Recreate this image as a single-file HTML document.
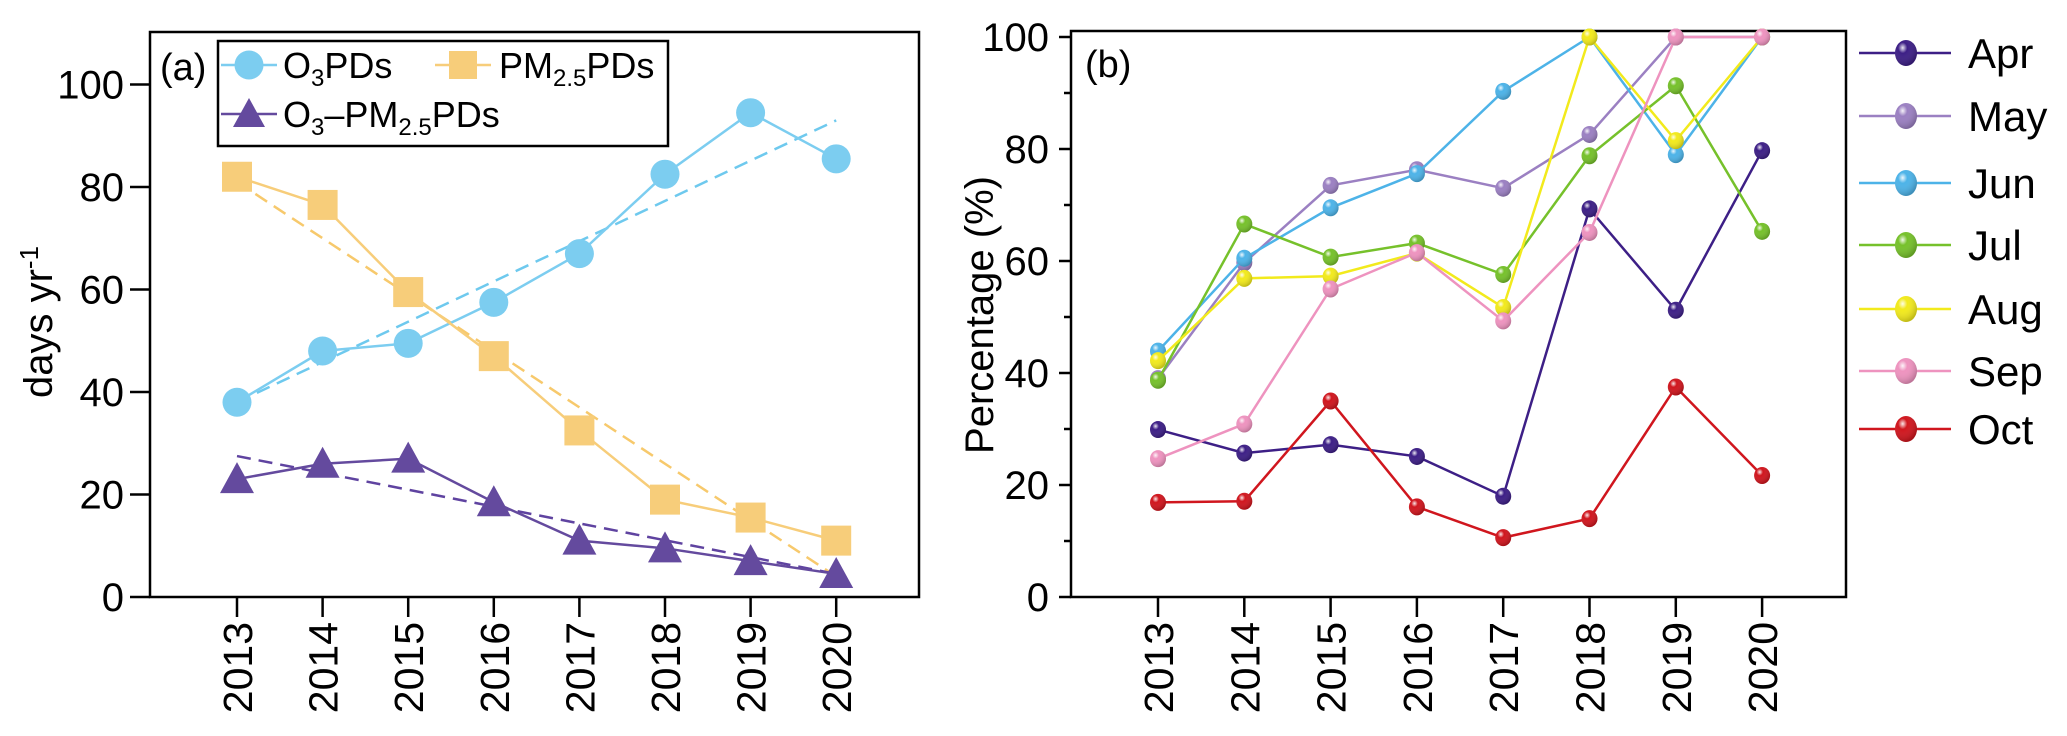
<!DOCTYPE html>
<html><head><meta charset="utf-8"><style>
body{margin:0;background:#fff}
svg{display:block;font-family:"Liberation Sans",Arial,sans-serif}
</style></head><body>
<svg id="chart" width="2067" height="736" viewBox="0 0 2067 736" xmlns="http://www.w3.org/2000/svg">
<defs>
<radialGradient id="shine" cx="0.35" cy="0.3" r="0.7">
<stop offset="0" stop-color="#fff" stop-opacity="0.9"/>
<stop offset="0.3" stop-color="#fff" stop-opacity="0"/>
<stop offset="1" stop-color="#000" stop-opacity="0.2"/>
</radialGradient>
</defs>
<g id="pa"></g>
<g id="pb"></g>
</svg>
<script>
const years = [2013,2014,2015,2016,2017,2018,2019,2020];
// Panel a data
const o3PDs = [38,48,49.5,57.5,67,82.5,94.5,85.5];
const pmPDs = [82,76.5,59.5,47,32.5,19,15.5,11];
const bothPDs = [23,26,27,18.5,11,9.5,7,4.5];
const o3Trend = [38,93];
const pmTrend = [81,4];
const bothTrend = [27.5,4.5];
const aTicks = [0,20,40,60,80,100];
// Panel b data
const months = ["Apr","May","Jun","Jul","Aug","Sep","Oct"];
const apr = [29.9,25.7,27.2,25.1,18,69.3,51.2,79.7];
const may = [39,59.7,73.5,76.3,73,82.6,100,100];
const jun = [43.9,60.5,69.5,75.6,90.3,100,79,100];
const jul = [38.7,66.6,60.7,63.2,57.6,78.8,91.3,65.3];
const aug = [42.2,56.9,57.3,61.4,51.7,100,81.5,100];
const sep = [24.7,30.9,55,61.5,49.3,65.1,100,100];
const oct = [16.9,17.1,35,16.1,10.6,14,37.5,21.7];
const bTicks = [0,20,40,60,80,100];

const NS="http://www.w3.org/2000/svg";
function mk(p,tag,at,txt){const e=document.createElementNS(NS,tag);for(const k in at)e.setAttribute(k,at[k]);if(txt!==undefined)e.textContent=txt;p.appendChild(e);return e;}

// ---- Panel A ----
const A=document.getElementById('pa');
const ax=i=>237+i*85.6, ay=v=>597-v*5.125;
let e=mk(A,'rect',{x:150,y:32,width:769,height:565,fill:'none',stroke:'#000','stroke-width':2.5});


aTicks.forEach(t=>{
  let l=mk(A,'line',{x1:130,x2:150,y1:ay(t),y2:ay(t),stroke:'#000','stroke-width':2.5});
  
  
  let tx=mk(A,'text',{x:124,y:ay(t)+14,'text-anchor':'end','font-size':40},t);
  
  
});
years.forEach((y,i)=>{
  let l=mk(A,'line',{x1:ax(i),x2:ax(i),y1:597,y2:617,stroke:'#000','stroke-width':2.5});
  
  
  let tx=mk(A,'text',{x:0,y:0,'text-anchor':'end','font-size':41,transform:`translate(${ax(i)+15},622) rotate(-90)`},y);
  
  
});
e=mk(A,'text',{x:0,y:0,'text-anchor':'middle','font-size':40,transform:'translate(52,322) rotate(-90)'});
e.innerHTML='days yr<tspan dy="-14" font-size="26">-1</tspan>';


e=mk(A,'text',{x:160,y:80,'font-size':38},'(a)');



function trend(vals,col,name){
  let l=mk(A,'line',{x1:ax(0),y1:ay(vals[0]),x2:ax(7),y2:ay(vals[1]),stroke:col,'stroke-width':2.5,'stroke-dasharray':'14 8'});
  
  
}
function marker(p,shape,x,y,col,s){
  if(shape==='c')return mk(p,'circle',{cx:x,cy:y,r:s,fill:col});
  if(shape==='s')return mk(p,'rect',{x:x-s,y:y-s,width:2*s,height:2*s,fill:col});
  return mk(p,'polygon',{points:`${x},${y-s-2} ${x-s-2},${y+s-1} ${x+s+2},${y+s-1}`,fill:col});
}
function seriesA(vals,col,shape,name){
  const g=mk(A,'g',{});
  
  
  mk(g,'polyline',{points:vals.map((v,i)=>ax(i)+','+ay(v)).join(' '),fill:'none',stroke:col,'stroke-width':2.5});
  vals.forEach((v,i)=>{
    const m=marker(g,shape,ax(i),ay(v),col,shape==='c'?14.5:15);
    
    
  });
}
trend(o3Trend,'#6ec9ee','o3-trend-line');
trend(pmTrend,'#f7c96c','pm-trend-line');
trend(bothTrend,'#5f43a0','both-trend-line');
seriesA(o3PDs,'#7ccdf0','c','o3-pds-series');
seriesA(pmPDs,'#f7cd7a','s','pm-pds-series');
seriesA(bothPDs,'#644a9e','t','o3-pm-pds-series');

// legend A
const LA=mk(A,'g',{});


mk(LA,'rect',{x:218,y:41,width:450,height:105,fill:'#fff',stroke:'#000','stroke-width':2.5});
function legA(x1,x2,cy,col,shape,tx,html,name){
  const g=mk(LA,'g',{});
  
  
  mk(g,'line',{x1:x1,x2:x2,y1:cy,y2:cy,stroke:col,'stroke-width':2.5});
  marker(g,shape,(x1+x2)/2,cy,col,shape==='c'?14.5:14);
  const t=mk(g,'text',{x:tx,y:cy+13,'font-size':36});
  t.innerHTML=html;
}
legA(221,277,65,'#7ccdf0','c',283,'O<tspan font-size="24" dy="8">3</tspan><tspan dy="-8">PDs</tspan>','legend-entry-o3');
legA(435,491,65,'#f7cd7a','s',499,'PM<tspan font-size="24" dy="8">2.5</tspan><tspan dy="-8">PDs</tspan>','legend-entry-pm');
legA(221,277,114,'#644a9e','t',283,'O<tspan font-size="24" dy="8">3</tspan><tspan dy="-8">–PM</tspan><tspan font-size="24" dy="8">2.5</tspan><tspan dy="-8">PDs</tspan>','legend-entry-both');

// ---- Panel B ----
const B=document.getElementById('pb');
const bx=i=>1158+i*86.3, by=v=>597-v*5.6;
e=mk(B,'rect',{x:1071,y:31,width:775,height:566,fill:'none',stroke:'#000','stroke-width':2.5});


for(let v=0;v<=100;v+=10){
  const major=v%20===0;
  let l=mk(B,'line',{x1:major?1059:1064,x2:1071,y1:by(v),y2:by(v),stroke:'#000','stroke-width':2.5});
  
  
}
bTicks.forEach(t=>{
  let tx=mk(B,'text',{x:1049,y:by(t)+14,'text-anchor':'end','font-size':40},t);
  
  
});
years.forEach((y,i)=>{
  let l=mk(B,'line',{x1:bx(i),x2:bx(i),y1:597,y2:617,stroke:'#000','stroke-width':2.5});
  
  
  let tx=mk(B,'text',{x:0,y:0,'text-anchor':'end','font-size':41,transform:`translate(${bx(i)+15},622) rotate(-90)`},y);
  
  
});
e=mk(B,'text',{x:0,y:0,'text-anchor':'middle','font-size':40,transform:'translate(993,315) rotate(-90)'},'Percentage (%)');


e=mk(B,'text',{x:1085,y:77,'font-size':38},'(b)');



const bSeries=[apr,may,jun,jul,aug,sep,oct];
const bCols=['#3d1f86','#9b80c2','#4db3e8','#76c12b','#f2ea1c','#ee93bf','#d0161e'];
const legY=[53,116,183,245,309,371,429];
bSeries.forEach((vals,k)=>{
  const g=mk(B,'g',{});
  
  
  mk(g,'polyline',{points:vals.map((v,i)=>bx(i)+','+by(v)).join(' '),fill:'none',stroke:bCols[k],'stroke-width':2.5});
  vals.forEach((v,i)=>{
    const m=mk(g,'ellipse',{cx:bx(i),cy:by(v),rx:8,ry:8.5,fill:bCols[k]});
    
    
    mk(g,'ellipse',{cx:bx(i),cy:by(v),rx:8,ry:8.5,fill:'url(#shine)'});
  });
  const lg=mk(B,'g',{});
  
  
  mk(lg,'line',{x1:1859,x2:1951,y1:legY[k],y2:legY[k],stroke:bCols[k],'stroke-width':2.5});
  mk(lg,'ellipse',{cx:1906,cy:legY[k],rx:11,ry:13,fill:bCols[k]});
  mk(lg,'ellipse',{cx:1906,cy:legY[k],rx:11,ry:13,fill:'url(#shine)'});
  mk(lg,'text',{x:1968,y:legY[k]+15,'font-size':42},months[k]);
});
</script>
</body></html>
